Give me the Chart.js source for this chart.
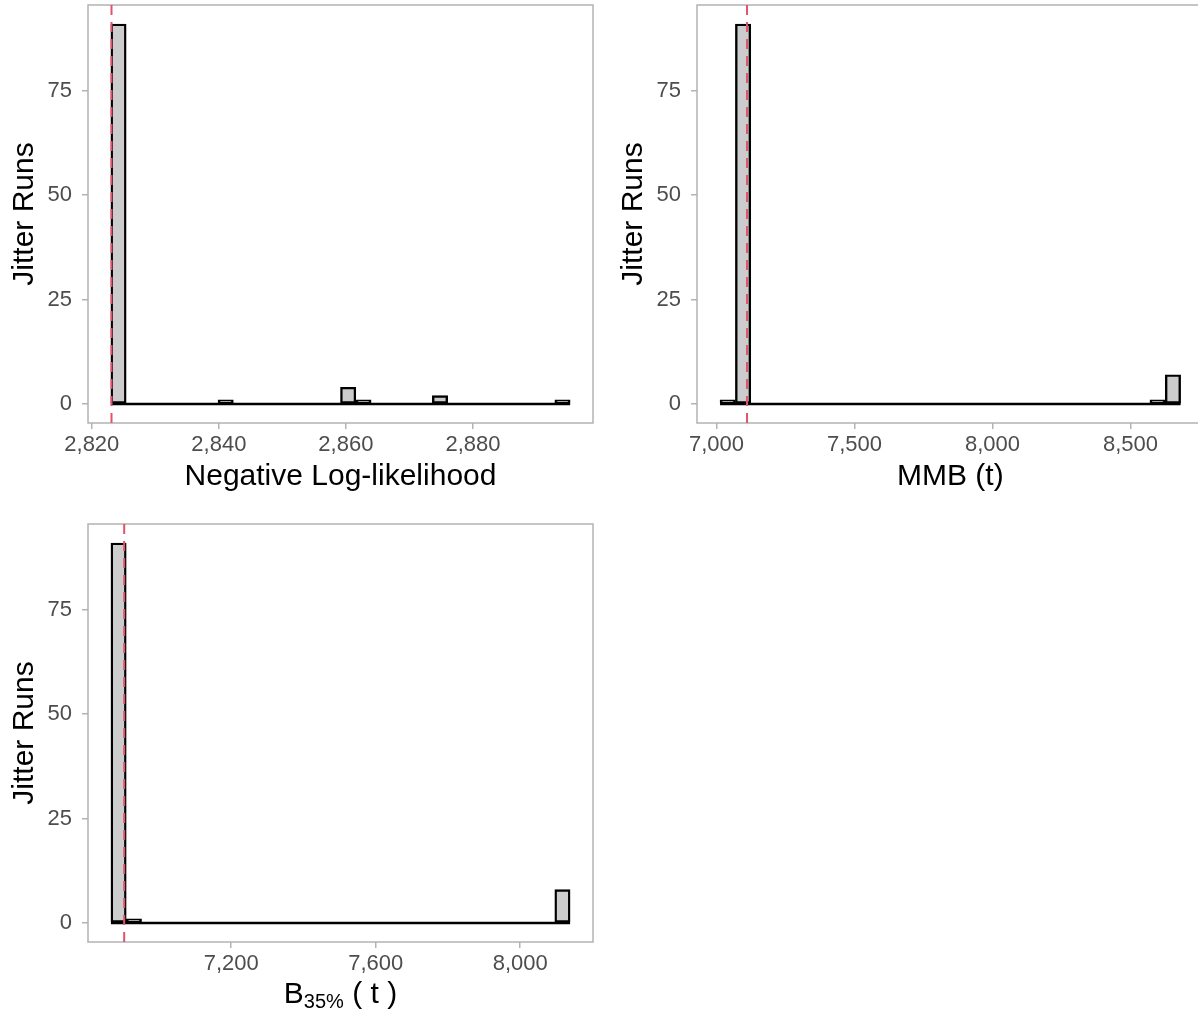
<!DOCTYPE html>
<html>
<head>
<meta charset="utf-8">
<script src="https://cdn.jsdelivr.net/npm/chart.js@4.4.1/dist/chart.umd.min.js"></script>
<style>
  html, body { margin:0; padding:0; background:#ffffff; width:1198px; height:1019px; overflow:hidden; }
  .panel { position:absolute; width:600px; height:500px; }
</style>
</head>
<body>
<div class="panel" style="left:0px; top:0px;"><canvas id="c1" width="600" height="500"></canvas></div>
<div class="panel" style="left:609px; top:0px;"><canvas id="c2" width="600" height="500"></canvas></div>
<div class="panel" style="left:0px; top:519px;"><canvas id="c3" width="600" height="500"></canvas></div>
<script>
// ---------- data (30 histogram bins per panel) ----------
const yTicks = [0, 25, 50, 75];

// Panel 1: Negative log-likelihood
const nllBinStart = 2823.0;
const nllBinWidth = 2.41;
const nllCounts = [91,0,0,0,0,0,0,1,0,0, 0,0,0,0,0,4,1,0,0,0, 0,2,0,0,0,0,0,0,0,1];
const nllRef = 2823.1;
const nllTicks = [2820, 2840, 2860, 2880];
const nllRange = [2819.4, 2898.9];

// Panel 2: MMB (t)
const mmbBinStart = 7013;
const mmbBinWidth = 55.63;
const mmbCounts = [1,91,0,0,0,0,0,0,0,0, 0,0,0,0,0,0,0,0,0,0, 0,0,0,0,0,0,0,0,1,7];
const mmbRef = 7110.8;
const mmbTicks = [7000, 7500, 8000, 8500];
const mmbRange = [6929.5, 8765.5];

// Panel 3: B35% (t)
const b35BinStart = 6867;
const b35BinWidth = 42.37;
const b35Counts = [91,1,0,0,0,0,0,0,0,0, 0,0,0,0,0,0,0,0,0,0, 0,0,0,0,0,0,0,0,0,8];
const b35Ref = 6903.7;
const b35Ticks = [7200, 7600, 8000];
const b35Range = [6803.5, 8201.5];

const yRange = [-4.55, 95.55];

// ---------- styling ----------
const FONT = "'Liberation Sans', Arial, Helvetica, sans-serif";
Chart.defaults.font.family = FONT;
const GREY = '#b3b3b3';
const TICKTXT = '#4d4d4d';
const REDLINE = '#DF536B';

const panelBorder = {
  id: 'panelBorder',
  beforeDatasetsDraw(chart) {
    const a = chart.chartArea, ctx = chart.ctx;
    ctx.save();
    ctx.strokeStyle = GREY;
    ctx.lineWidth = 1.5;
    ctx.strokeRect(a.left, a.top, a.right - a.left, a.bottom - a.top);
    ctx.restore();
  }
};

function subTitlePlugin(main, sub, rest) {
  return {
    id: 'subTitle',
    afterDraw(chart) {
      const ctx = chart.ctx, a = chart.chartArea;
      ctx.save();
      ctx.fillStyle = '#000';
      ctx.textBaseline = 'alphabetic';
      ctx.textAlign = 'left';
      const f1 = '30px ' + FONT, f2 = '20px ' + FONT;
      ctx.font = f1; const w1 = ctx.measureText(main).width;
      const w3 = ctx.measureText(rest).width;
      ctx.font = f2; const w2 = ctx.measureText(sub).width;
      const total = w1 + w2 + w3;
      let x = (a.left + a.right) / 2 - total / 2;
      const base = 484;
      ctx.font = f1; ctx.fillText(main, x, base); x += w1;
      ctx.font = f2; ctx.fillText(sub, x, base + 5); x += w2;
      ctx.font = f1; ctx.fillText(rest, x, base);
      ctx.restore();
    }
  };
}

function makeHist(id, o) {
  const bars = o.counts.map((c, i) => ({ x: o.binStart + (i + 0.5) * o.binWidth, y: c }));
  const binEnd = o.binStart + o.counts.length * o.binWidth;
  const plugins = [panelBorder];
  if (o.customTitle) plugins.push(o.customTitle);
  new Chart(document.getElementById(id), {
    type: 'bar',
    data: {
      datasets: [
        { type: 'line', data: [{ x: o.ref, y: yRange[0] }, { x: o.ref, y: yRange[1] }],
          borderColor: REDLINE, borderWidth: 2, borderDash: [10, 7], pointRadius: 0, order: 0 },
        { type: 'line', data: [{ x: o.binStart, y: 0 }, { x: binEnd, y: 0 }],
          borderColor: '#000', borderWidth: 2.4, pointRadius: 0, order: 1 },
        { type: 'bar', data: bars, backgroundColor: '#cccccc', borderColor: '#000000',
          borderWidth: 2.4, borderSkipped: false, barPercentage: 1, categoryPercentage: 1, order: 2 }
      ]
    },
    options: {
      responsive: false,
      animation: false,
      layout: { padding: { top: 5, right: o.padRight, bottom: 0, left: 0 } },
      plugins: { legend: { display: false }, tooltip: { enabled: false } },
      scales: {
        x: {
          type: 'linear', min: o.range[0], max: o.range[1], offset: false,
          afterBuildTicks: s => { s.ticks = o.ticks.map(v => ({ value: v })); },
          afterFit: s => { s.height = 77; s.paddingLeft = 0; s.paddingRight = 0; },
          grid: { drawOnChartArea: false, drawTicks: true, tickLength: 6, color: GREY, lineWidth: 1.5, offset: false },
          border: { display: false },
          ticks: { color: TICKTXT, font: { size: 22 }, padding: 3, maxRotation: 0, autoSkip: false,
                   callback: v => Number(v).toLocaleString('en-US') },
          title: o.customTitle ? { display: false } :
                 { display: true, text: o.title, color: '#000', font: { size: 30 }, padding: { top: 0, bottom: 5 } }
        },
        y: {
          type: 'linear', min: yRange[0], max: yRange[1],
          afterBuildTicks: s => { s.ticks = yTicks.map(v => ({ value: v })); },
          afterFit: s => { s.width = 88; s.paddingTop = 0; s.paddingBottom = 0; },
          grid: { drawOnChartArea: false, drawTicks: true, tickLength: 6, color: GREY, lineWidth: 1.5 },
          border: { display: false },
          ticks: { color: TICKTXT, font: { size: 22 }, padding: 10 },
          title: { display: true, text: 'Jitter Runs', color: '#000', font: { size: 30 }, padding: { top: 7, bottom: 0 } }
        }
      }
    },
    plugins: plugins
  });
}

makeHist('c1', { counts: nllCounts, binStart: nllBinStart, binWidth: nllBinWidth, ref: nllRef,
  ticks: nllTicks, range: nllRange, title: 'Negative Log-likelihood', padRight: 7 });
makeHist('c2', { counts: mmbCounts, binStart: mmbBinStart, binWidth: mmbBinWidth, ref: mmbRef,
  ticks: mmbTicks, range: mmbRange, title: 'MMB (t)', padRight: 5.3 });
makeHist('c3', { counts: b35Counts, binStart: b35BinStart, binWidth: b35BinWidth, ref: b35Ref,
  ticks: b35Ticks, range: b35Range, padRight: 7, customTitle: subTitlePlugin('B', '35%', ' ( t )') });
</script>
</body>
</html>
